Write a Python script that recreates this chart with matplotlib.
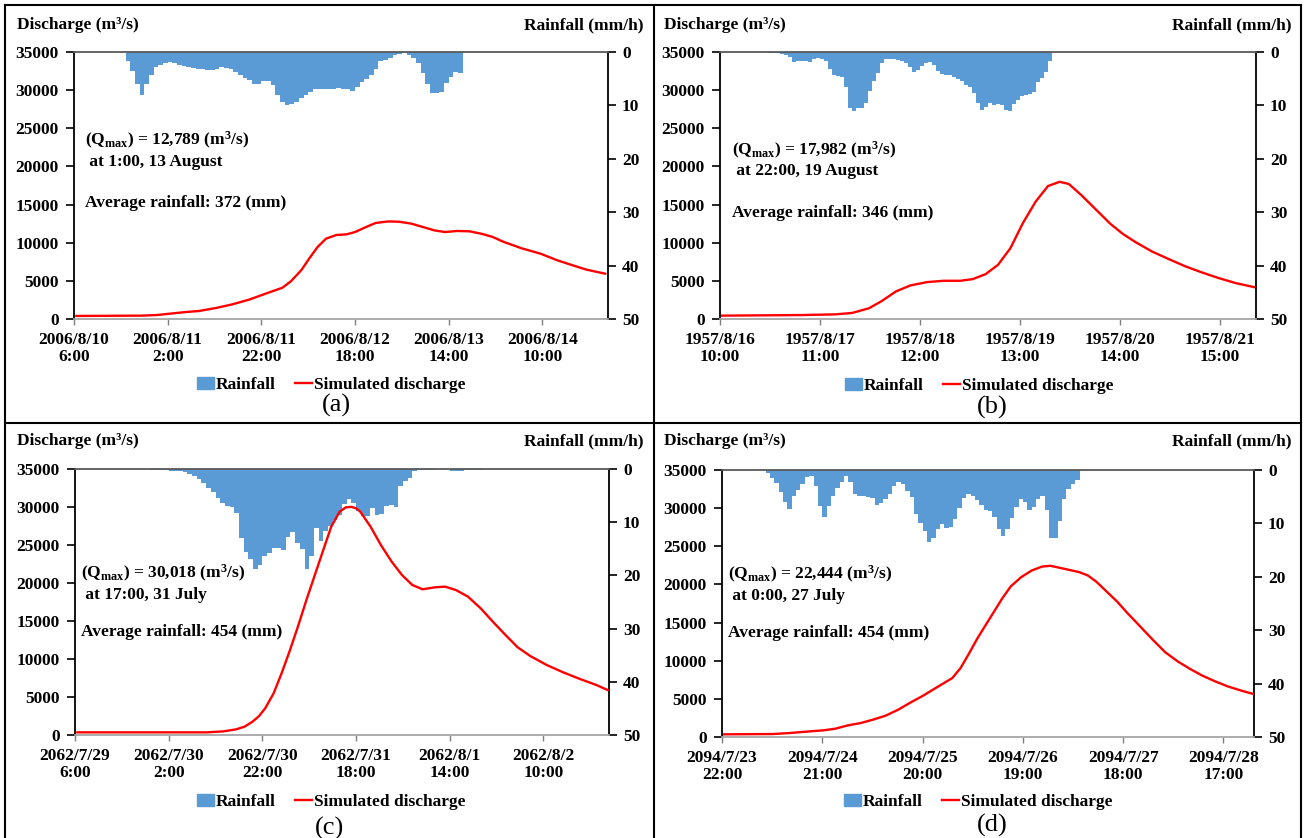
import numpy as np
import matplotlib
matplotlib.use("Agg")
import matplotlib.pyplot as plt
from matplotlib.patches import Patch
from matplotlib.lines import Line2D

plt.rcParams["font.family"] = ["Liberation Serif", "DejaVu Serif"]
plt.rcParams["font.weight"] = "bold"
plt.rcParams["mathtext.fontset"] = "custom"
plt.rcParams["mathtext.rm"] = "Liberation Serif:bold"
plt.rcParams["mathtext.it"] = "Liberation Serif:bold"
plt.rcParams["mathtext.bf"] = "Liberation Serif:bold"

W, H = 1304, 838
RAIN_COLOR = "#5b9bd5"
FS = 12.5

# ---- (a) 2006 event, hourly categories from 2006/8/10 6:00
n_hours_a = 114
ticks_a = [0, 20, 40, 60, 80, 100]
labels_a = ["2006/8/10\n6:00", "2006/8/11\n2:00", "2006/8/11\n22:00",
            "2006/8/12\n18:00", "2006/8/13\n14:00", "2006/8/14\n10:00"]
rain_start_a = 11
rain_a = [1.75, 3.5, 6.0, 8.0, 6.0, 4.25, 2.9, 2.4, 2.1, 1.9,
          2.1, 2.4, 2.6, 2.9, 3.0, 3.1, 3.2, 3.4, 3.4, 3.1,
          2.9, 3.0, 3.25, 3.75, 4.4, 4.9, 5.25, 6.0, 6.0, 5.5,
          5.5, 6.1, 8.0, 9.4, 9.9, 9.75, 9.4, 8.6, 8.1, 7.5,
          7.0, 6.9, 7.0, 6.9, 6.9, 6.75, 6.9, 7.0, 7.25, 6.6,
          5.6, 5.0, 4.25, 3.1, 1.75, 1.5, 1.1, 0.6, 0.4, 0.25,
          0.5, 1.1, 2.1, 3.9, 5.9, 7.75, 7.75, 7.4, 5.75, 4.75,
          3.75, 3.9]
q_hours_a = [0, 13.8, 17.3, 20.0, 23.5, 26.2, 29.8, 33.3, 36.9, 40.4, 44.0, 45.8,
             48.0, 49.8, 51.5, 53.3, 55.5, 57.7, 59.5, 61.7, 63.9, 66.6, 68.9, 71.5,
             74.2, 76.4, 78.7, 81.3, 84.0, 86.7, 88.9, 91.1, 95.1, 99.1, 102.7,
             106.2, 108.9, 112.9]
q_a = [400, 440, 525, 700, 920, 1050, 1440, 1920, 2540, 3320, 4100, 4940, 6380,
       8000, 9440, 10530, 11010, 11100, 11400, 12020, 12590, 12789, 12750, 12500,
       12020, 11620, 11400, 11540, 11490, 11140, 10750, 10140, 9260, 8560, 7690,
       6990, 6470, 5940]
notes_a = ["(Q$_{\\rm max}$) = 12,789 (m$^3$/s)", " at 1:00, 13 August",
           "Average rainfall: 372 (mm)"]

# ---- (b) 1957 event, from 1957/8/16 10:00
n_hours_b = 134
ticks_b = [0, 25, 50, 75, 100, 125]
labels_b = ["1957/8/16\n10:00", "1957/8/17\n11:00", "1957/8/18\n12:00",
            "1957/8/19\n13:00", "1957/8/20\n14:00", "1957/8/21\n15:00"]
rain_start_b = 12
rain_b = [0.1, 0.12, 0.25, 0.3, 0.6, 0.9, 1.9, 1.75, 1.7, 1.6,
          1.9, 1.4, 1.1, 1.25, 1.75, 3.1, 4.25, 4.5, 4.75, 6.5,
          10.4, 11.0, 10.5, 10.4, 9.6, 7.25, 5.5, 3.9, 2.1, 1.25,
          1.25, 1.3, 1.5, 1.75, 2.1, 2.75, 3.75, 3.4, 2.6, 2.1,
          1.9, 2.4, 3.6, 4.1, 4.25, 4.4, 4.6, 5.1, 5.5, 6.1,
          6.6, 7.7, 9.6, 10.9, 10.25, 9.6, 9.9, 9.75, 9.9, 10.8,
          11.0, 9.75, 8.9, 8.2, 8.0, 7.9, 7.4, 5.6, 4.9, 3.75,
          1.75]
q_hours_b = [0, 20, 28.4, 32.5, 36.7, 39.8, 43.5, 47.1, 51.3, 55.4, 59.6, 62.7,
             65.9, 69.0, 72.1, 75.2, 78.4, 81.5, 84.4, 86.7, 89.8, 94.0, 97.1,
             100.2, 103.4, 107.5, 111.7, 115.9, 120.0, 124.2, 128.4, 133.0]
q_b = [440, 520, 610, 790, 1400, 2310, 3620, 4400, 4840, 5010, 5010, 5230, 5880,
       7100, 9280, 12550, 15380, 17430, 17982, 17700, 16260, 14080, 12470, 11160,
       10070, 8850, 7850, 6890, 6100, 5360, 4710, 4180]
notes_b = ["(Q$_{\\rm max}$) = 17,982 (m$^3$/s)", " at 22:00, 19 August",
           "Average rainfall: 346 (mm)"]

# ---- (c) 2062 event, from 2062/7/29 6:00
n_hours_c = 114
ticks_c = [0, 20, 40, 60, 80, 100]
labels_c = ["2062/7/29\n6:00", "2062/7/30\n2:00", "2062/7/30\n22:00",
            "2062/7/31\n18:00", "2062/8/1\n14:00", "2062/8/2\n10:00"]
rain_start_c = 14
rain_c = [0.05, 0.05, 0.1, 0.1, 0.15, 0.2, 0.3, 0.35, 0.45, 0.65,
          0.9, 1.3, 1.8, 2.55, 3.5, 4.4, 5.4, 6.3, 7.0, 7.2,
          8.2, 12.9, 15.6, 17.0, 18.8, 18.0, 16.3, 15.8, 14.8, 14.9,
          15.3, 12.7, 11.9, 13.9, 15.1, 18.8, 16.4, 11.0, 13.5, 11.6,
          10.7, 9.6, 8.7, 6.6, 5.7, 6.3, 7.9, 8.8, 8.8, 7.4,
          8.7, 8.5, 7.0, 6.8, 7.2, 3.2, 2.3, 1.6, 0.3, 0.1,
          0.1, 0.1, 0.1, 0.05, 0.05, 0.05, 0.3, 0.3, 0.3, 0.15,
          0.15, 0.15, 0.15]
q_hours_c = [0, 27.7, 31.2, 33.9, 35.7, 37.4, 38.8, 40.1, 41.9, 43.6, 45.4, 47.2,
             48.9, 50.7, 52.5, 54.2, 56.0, 57.3, 58.5, 59.5, 60.4, 62.6, 64.8, 67.1,
             69.3, 71.5, 73.7, 76.3, 78.5, 80.8, 83.4, 86.1, 88.7, 91.4, 94.0, 96.7,
             100.2, 103.7, 107.3, 110.8, 113.2]
q_c = [350, 350, 480, 745, 1100, 1750, 2500, 3510, 5480, 8110, 11180, 14470,
       17760, 21050, 24340, 27410, 29390, 29950, 30018, 29830, 29390, 27410, 25000,
       22810, 21050, 19740, 19170, 19430, 19520, 19080, 18200, 16670, 14910, 13160,
       11540, 10390, 9210, 8250, 7370, 6580, 5920]
notes_c = ["(Q$_{\\rm max}$) = 30,018 (m$^3$/s)", " at 17:00, 31 July",
           "Average rainfall: 454 (mm)"]

# ---- (d) 2094 event, from 2094/7/23 22:00
n_hours_d = 122
ticks_d = [0, 23, 46, 69, 92, 115]
labels_d = ["2094/7/23\n22:00", "2094/7/24\n21:00", "2094/7/25\n20:00",
            "2094/7/26\n19:00", "2094/7/27\n18:00", "2094/7/28\n17:00"]
rain_start_d = 10
rain_d = [0.56, 1.44, 2.43, 4.18, 5.93, 7.3, 4.8, 3.68, 2.68, 1.31,
          1.06, 2.93, 6.8, 8.8, 6.8, 4.93, 3.31, 2.31, 1.19, 2.31,
          4.43, 4.8, 4.93, 5.06, 5.18, 6.62, 6.18, 5.43, 4.56, 2.93,
          2.31, 2.68, 3.93, 5.06, 8.3, 9.93, 11.42, 13.42, 12.67, 10.99,
          10.17, 10.8, 10.67, 9.18, 7.18, 5.18, 4.43, 4.8, 5.56, 6.55,
          7.55, 7.68, 8.8, 11.05, 12.3, 11.05, 9.05, 6.93, 5.43, 6.05,
          7.55, 6.93, 5.43, 4.8, 7.43, 12.67, 12.8, 9.55, 5.43, 3.56,
          2.68, 1.94]
q_hours_d = [0, 11.2, 15.0, 18.8, 22.7, 25.5, 28.4, 31.3, 34.1, 37.0, 39.9, 42.8,
             45.6, 48.5, 50.4, 52.3, 54.2, 56.2, 58.1, 60.0, 61.9, 63.8, 65.7, 68.1,
             70.5, 72.9, 74.8, 76.7, 79.1, 81.5, 83.4, 85.3, 87.7, 90.1, 92.5, 95.4,
             98.3, 101.1, 104.0, 106.9, 109.7, 112.6, 115.5, 118.4, 121.4]
q_d = [350, 390, 520, 700, 870, 1090, 1530, 1830, 2270, 2790, 3580, 4540, 5410,
       6420, 7070, 7720, 9030, 11000, 12960, 14710, 16450, 18200, 19730, 20950,
       21820, 22340, 22444, 22210, 21910, 21600, 21170, 20380, 19070, 17760, 16230,
       14490, 12740, 11130, 9910, 8900, 8030, 7290, 6630, 6110, 5630]
notes_d = ["(Q$_{\\rm max}$) = 22,444 (m$^3$/s)", " at 0:00, 27 July",
           "Average rainfall: 454 (mm)"]


def fx(x):
    return x / W


def fy(y):
    return 1 - y / H


fig = plt.figure(figsize=(W / 100, H / 100), dpi=100)


def draw_panel(box, n_hours, ticks, labels, rain_start, rain, q_hours, q,
               notes, note_y, note_x, head_y, head_left, head_right,
               legend_xy, tag, tag_xy):
    left, top, right, bottom = box
    ax = fig.add_axes([fx(left), fy(bottom), fx(right - left), (bottom - top) / H])
    ax2 = ax.twinx()

    rain_x = np.arange(rain_start, rain_start + len(rain)) + 0.5
    ax2.bar(rain_x, rain, width=1.0, color=RAIN_COLOR, linewidth=0)
    ax2.set_ylim(50, 0)
    ax2.set_yticks(range(0, 51, 10))
    ax2.set_yticklabels([str(v) for v in range(0, 51, 10)], fontsize=FS)
    ax2.tick_params(axis="y", length=6, width=1.2, pad=4)

    ax.plot(np.array(q_hours) + 0.5, q, color="red", lw=1.7)
    ax.set_zorder(ax2.get_zorder() + 1)
    ax.patch.set_visible(False)
    ax.set_xlim(0, n_hours)
    ax.set_ylim(0, 35000)
    ax.set_yticks(range(0, 35001, 5000))
    ax.set_yticklabels([str(v) for v in range(0, 35001, 5000)], fontsize=FS)
    ax.set_xticks(ticks)
    ax.set_xticklabels(labels, fontsize=FS, linespacing=1.15)
    ax.tick_params(axis="y", length=6, width=1.2, pad=5)
    ax.tick_params(axis="x", length=4, width=1.0, pad=5, color="#7f7f7f")

    ax.spines["left"].set_color("black")
    ax.spines["left"].set_linewidth(1.3)
    ax.spines["right"].set_visible(False)
    ax.spines["top"].set_color("#595959")
    ax.spines["top"].set_linewidth(1.3)
    ax.spines["bottom"].set_color("#a6a6a6")
    ax.spines["bottom"].set_linewidth(1.3)
    for name in ["left", "top", "bottom"]:
        ax2.spines[name].set_visible(False)
    ax2.spines["right"].set_color("black")
    ax2.spines["right"].set_linewidth(1.3)

    for txt, yy in zip(notes, note_y):
        ax.text(note_x, yy, txt, transform=ax.transAxes, fontsize=FS,
                ha="left", va="center")

    fig.text(fx(head_left), fy(head_y), "Discharge (m³/s)", fontsize=FS,
             ha="left", va="center")
    fig.text(fx(head_right), fy(head_y), "Rainfall (mm/h)", fontsize=FS,
             ha="right", va="center")

    handles = [Patch(color=RAIN_COLOR, label="Rainfall"),
               Line2D([], [], color="red", lw=1.7, label="Simulated discharge")]
    fig.legend(handles=handles, loc="center", ncol=2, frameon=False,
               bbox_to_anchor=(fx(legend_xy[0]), fy(legend_xy[1])),
               fontsize=FS, handlelength=1.0, handletextpad=0.1,
               columnspacing=1.1, borderpad=0)
    fig.text(fx(tag_xy[0]), fy(tag_xy[1]), tag, fontsize=19, fontweight="normal",
             ha="center", va="center")


draw_panel((74, 52, 608, 319), n_hours_a, ticks_a, labels_a, rain_start_a, rain_a,
           q_hours_a, q_a, notes_a, [0.67, 0.588, 0.434], 0.02, 25, 17, 643,
           (331, 385), "(a)", (336, 405))
draw_panel((720, 52, 1256, 319), n_hours_b, ticks_b, labels_b, rain_start_b, rain_b,
           q_hours_b, q_b, notes_b, [0.633, 0.555, 0.397], 0.023, 25, 664, 1292,
           (979, 386), "(b)", (992, 407))
draw_panel((75, 469, 609, 735), n_hours_c, ticks_c, labels_c, rain_start_c, rain_c,
           q_hours_c, q_c, notes_c, [0.608, 0.526, 0.388], 0.011, 441, 17, 643,
           (331, 802), "(c)", (330, 828))
draw_panel((722, 470, 1254, 737), n_hours_d, ticks_d, labels_d, rain_start_d, rain_d,
           q_hours_d, q_d, notes_d, [0.607, 0.528, 0.388], 0.011, 441, 664, 1292,
           (978, 802), "(d)", (992, 825))

# panel frames
frame = [((5, 5), (1301, 5)), ((5, 5), (5, 838)), ((1301, 5), (1301, 838)),
         ((5, 423), (1301, 423)), ((654, 5), (654, 838))]
for (x0, y0), (x1, y1) in frame:
    fig.add_artist(Line2D([fx(x0), fx(x1)], [fy(y0), fy(y1)],
                          transform=fig.transFigure, color="black", lw=1.5))

fig.savefig("out.png", dpi=100, facecolor="white")
